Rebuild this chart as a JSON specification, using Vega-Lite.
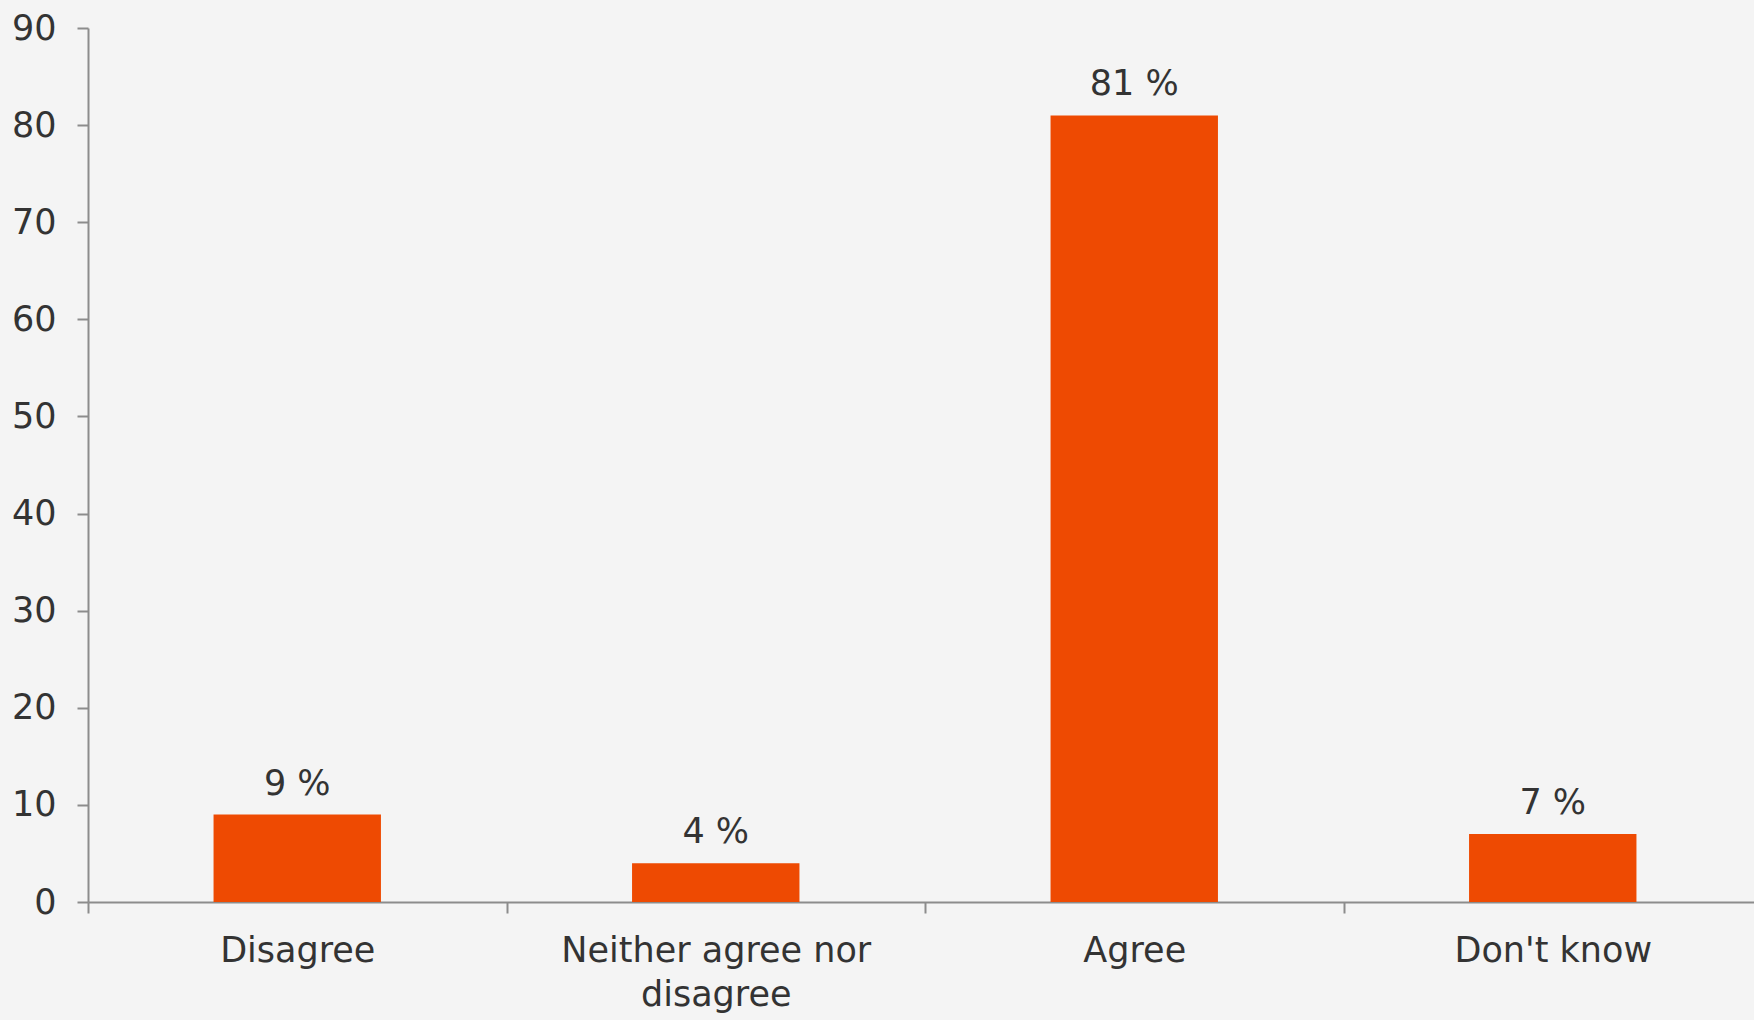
{
  "$schema": "https://vega.github.io/schema/vega-lite/v6.json",
  "width": 1666,
  "height": 874,
  "autosize": {"type": "none"},
  "padding": {"left": 88, "top": 28, "right": 0, "bottom": 118},
  "background": "#f4f4f4",
  "config": {
    "view": {"stroke": null},
    "font": "DejaVu Sans"
  },
  "data": {
    "values": [
      {"answer": "Disagree", "pct": 9},
      {"answer": "Neither agree nor disagree", "pct": 4},
      {"answer": "Agree", "pct": 81},
      {"answer": "Don't know", "pct": 7}
    ]
  },
  "encoding": {
    "x": {
      "field": "answer",
      "type": "nominal",
      "sort": null,
      "scale": {"paddingInner": 0, "paddingOuter": 0, "range": [0, 1674]},
      "axis": {
        "title": null,
        "labelAngle": 0,
        "tickBand": "extent",
        "domainColor": "#8c8c8c",
        "domainWidth": 2,
        "tickColor": "#8c8c8c",
        "tickWidth": 2,
        "tickSize": 11,
        "labelFontSize": 35,
        "labelColor": "#333333",
        "labelPadding": 20,
        "labelLineHeight": 44,
        "labelLimit": 0,
        "labelFont": "DejaVu Sans",
        "labelExpr": "datum.label == 'Neither agree nor disagree' ? ['Neither agree nor', 'disagree'] : datum.label"
      }
    },
    "y": {
      "field": "pct",
      "type": "quantitative",
      "scale": {"domain": [0, 90], "nice": false},
      "axis": {
        "title": null,
        "values": [0, 10, 20, 30, 40, 50, 60, 70, 80, 90],
        "grid": false,
        "domainColor": "#8c8c8c",
        "domainWidth": 2,
        "tickColor": "#8c8c8c",
        "tickWidth": 2,
        "tickSize": 11,
        "labelFontSize": 35,
        "labelColor": "#333333",
        "labelPadding": 21,
        "labelFont": "DejaVu Sans"
      }
    }
  },
  "layer": [
    {"mark": {"type": "bar", "color": "#ee4a02", "width": {"band": 0.4}}},
    {
      "transform": [{"calculate": "datum.pct + ' %'", "as": "label"}],
      "mark": {"type": "text", "baseline": "bottom", "dy": -13, "fontSize": 35, "color": "#333333", "font": "DejaVu Sans"},
      "encoding": {"text": {"field": "label", "type": "nominal"}}
    }
  ]
}
